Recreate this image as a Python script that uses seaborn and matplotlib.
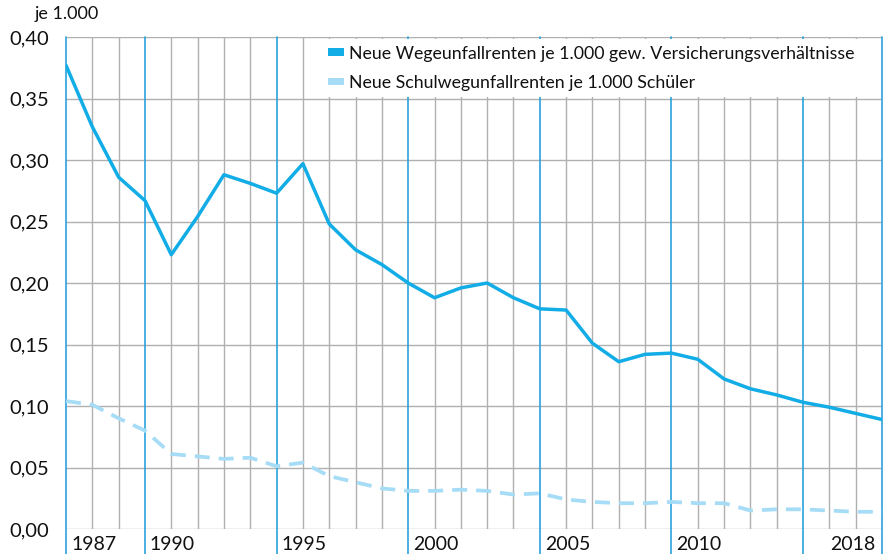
import matplotlib
matplotlib.use("Agg")
import matplotlib.pyplot as plt
import matplotlib.transforms as mtransforms
from matplotlib.patches import Patch
import numpy as np
import pandas as pd
import seaborn as sns

years = list(range(1987, 2019))
wege = [0.377, 0.327, 0.286, 0.267, 0.223, 0.254, 0.288, 0.281, 0.273, 0.297,
        0.248, 0.227, 0.215, 0.200, 0.188, 0.196, 0.200, 0.188, 0.179, 0.178,
        0.151, 0.136, 0.142, 0.143, 0.138, 0.122, 0.114, 0.109, 0.103, 0.099,
        0.094, 0.089]
schulweg = [0.104, 0.101, 0.090, 0.080, 0.061, 0.059, 0.057, 0.058, 0.051, 0.054,
            0.043, 0.038, 0.033, 0.031, 0.031, 0.032, 0.031, 0.028, 0.029, 0.024,
            0.022, 0.021, 0.021, 0.022, 0.021, 0.021, 0.015, 0.016, 0.016, 0.015,
            0.014, 0.014]
label_wege = "Neue Wegeunfallrenten je 1.000 gew. Versicherungsverhältnisse"
label_schul = "Neue Schulwegunfallrenten je 1.000 Schüler"
y_ticks = [0.0, 0.05, 0.10, 0.15, 0.20, 0.25, 0.30, 0.35, 0.40]
x_marks = [1987, 1990, 1995, 2000, 2005, 2010, 2015, 2018]
x_labels = ["1987", "1990", "1995", "2000", "2005", "2010", "", "2018"]

BLUE = "#12ade6"
LIGHT = "#a6dcf6"
GRID_BLUE = "#2aa3dc"
GREY = "#b0b0b0"
TEXT = "#111111"

sns.set_style("white")
plt.rcParams['font.family'] = ['Lato', 'DejaVu Sans']

df = pd.DataFrame({"year": years, "wege": wege, "schul": schulweg})

fig = plt.figure(figsize=(8.9, 5.54), dpi=100)
ax = fig.add_axes([66 / 890, 25 / 554, 816 / 890, 492 / 554])

# grid
for y in y_ticks:
    ax.axhline(y, color=GREY, lw=1, zorder=0)
for yr in years:
    if yr not in x_marks:
        ax.axvline(yr, color=GREY, lw=1, zorder=0)
for yr in x_marks:
    ax.axvline(yr, ymin=-0.052, ymax=1, color=GRID_BLUE, lw=1.2, zorder=1,
               clip_on=False)

sns.lineplot(data=df, x="year", y="wege", ax=ax, color=BLUE, lw=2.5,
             zorder=3, legend=False)
sns.lineplot(data=df, x="year", y="schul", ax=ax, color=LIGHT, lw=2.7,
             zorder=3, legend=False, dashes=False, linestyle=(0, (4, 2.4)))

ax.set_xlim(1987, 2018)
ax.set_ylim(0, 0.40)
ax.set_xlabel("")
ax.set_ylabel("")
for s in ax.spines.values():
    s.set_visible(False)

ax.set_yticks(y_ticks)
ax.set_yticklabels([f"{v:.2f}".replace(".", ",") for v in y_ticks], fontsize=14.5,
                   color=TEXT)
ax.tick_params(axis="y", length=0, pad=12.5)

ax.set_xticks(x_marks)
ax.set_xticklabels(x_labels, fontsize=14, color=TEXT)
ax.tick_params(axis="x", length=0, pad=5)
for i, lab in enumerate(ax.get_xticklabels()):
    if i == len(x_marks) - 1:
        lab.set_ha("right")
        off = mtransforms.ScaledTranslation(-7 / 100, 0, fig.dpi_scale_trans)
    else:
        lab.set_ha("left")
        off = mtransforms.ScaledTranslation(5 / 100, 0, fig.dpi_scale_trans)
    lab.set_transform(lab.get_transform() + off)

fig.text(35 / 890, 1 - 6 / 554, "je 1.000", fontsize=13, color=TEXT,
         ha="left", va="top")

handles = [Patch(facecolor=BLUE, edgecolor="none"),
           Patch(facecolor=LIGHT, edgecolor="none")]
leg = ax.legend(handles, [label_wege, label_schul], loc="upper left",
                bbox_to_anchor=(0.314, 0.995), borderaxespad=0, frameon=True,
                facecolor="white", edgecolor="none", framealpha=1,
                fontsize=12.75, handlelength=0.9, handleheight=0.3,
                handletextpad=0.25, labelspacing=0.75, borderpad=0.35)
leg.set_zorder(5)
for t in leg.get_texts():
    t.set_color(TEXT)

fig.savefig("out.png", dpi=100)
